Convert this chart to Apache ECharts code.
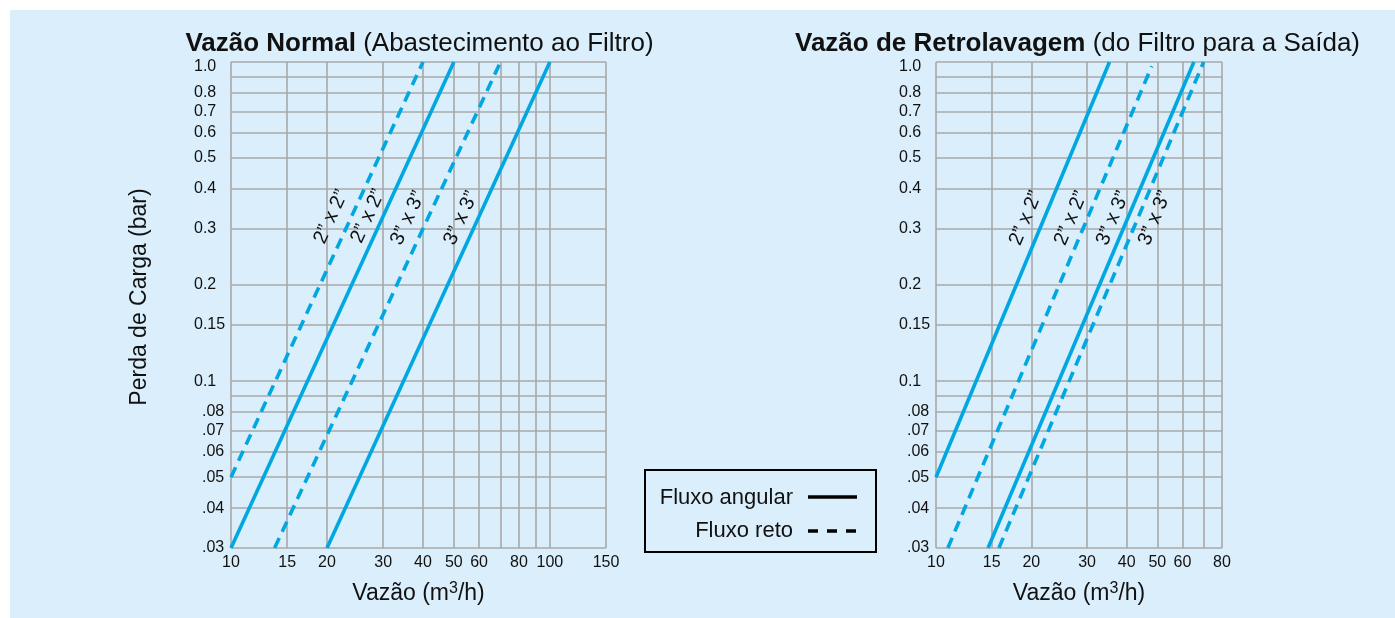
<!DOCTYPE html>
<html>
<head>
<meta charset="utf-8">
<script src="https://cdn.jsdelivr.net/npm/echarts@6/dist/echarts.min.js"></script>
<style>
  html, body { margin: 0; padding: 0; background: #ffffff; }
  #panel { position: absolute; left: 10px; top: 10px; width: 1385px; height: 608px; background: #dbeefb; }
  #chart { position: absolute; left: 0; top: 0; width: 1395px; height: 618px; }
</style>
</head>
<body>
<div id="panel"></div>
<div id="chart"></div>
<script>
// ---- Flow axes (m³/h): gridlines and labelled ticks ----
const normalFlowGrid   = [10, 15, 20, 30, 40, 50, 60, 70, 80, 90, 100, 150];
const normalFlowLabels = [10, 15, 20, 30, 40, 50, 60, 80, 100, 150];
const backFlowGrid     = [10, 15, 20, 30, 40, 50, 60, 70, 80];
const backFlowLabels   = [10, 15, 20, 30, 40, 50, 60, 80];

// ---- Pressure-loss axis (bar) ----
const lossGrid       = [0.03, 0.04, 0.05, 0.06, 0.07, 0.08, 0.09, 0.1, 0.15, 0.2, 0.3, 0.4, 0.5, 0.6, 0.7, 0.8, 0.9, 1.0];
const lossTickValues = [0.03, 0.04, 0.05, 0.06, 0.07, 0.08, 0.1, 0.15, 0.2, 0.3, 0.4, 0.5, 0.6, 0.7, 0.8, 1.0];
const lossTickText   = ['.03', '.04', '.05', '.06', '.07', '.08', '0.1', '0.15', '0.2', '0.3', '0.4', '0.5', '0.6', '0.7', '0.8', '1.0'];

// ---- Curves: [flow m³/h, loss bar] end points of each straight log-log line ----
// Normal flow (supply to the filter)
const normal2x2Angular  = [[10, 0.03], [50, 1.0]];
const normal2x2Straight = [[10, 0.05], [40, 1.0]];
const normal3x3Angular  = [[20, 0.03], [100, 1.0]];
const normal3x3Straight = [[13.7, 0.03], [70, 1.0]];
// Backwash flow (filter to outlet)
const back2x2Angular    = [[10, 0.05], [35.3, 1.0]];
const back2x2Straight   = [[10.9, 0.03], [48, 0.97]];
const back3x3Angular    = [[14.6, 0.03], [65.2, 1.0]];
const back3x3Straight   = [[15.8, 0.03], [70, 1.0]];

const SIZE_2 = '2\u201D x 2\u201D';
const SIZE_3 = '3\u201D x 3\u201D';

// Each curve: panel, values, stroke kind, and where its size tag sits (data space)
const curves = [
  { panel: 0, data: normal2x2Straight, dashed: true,  tag: SIZE_2, tagAt: [20.6, 0.327] },
  { panel: 0, data: normal2x2Angular,  dashed: false, tag: SIZE_2, tagAt: [26.9, 0.329] },
  { panel: 0, data: normal3x3Straight, dashed: true,  tag: SIZE_3, tagAt: [35.9, 0.324] },
  { panel: 0, data: normal3x3Angular,  dashed: false, tag: SIZE_3, tagAt: [52.7, 0.324] },
  { panel: 1, data: back2x2Angular,    dashed: false, tag: SIZE_2, tagAt: [19.2, 0.324] },
  { panel: 1, data: back2x2Straight,   dashed: true,  tag: SIZE_2, tagAt: [26.7, 0.324] },
  { panel: 1, data: back3x3Angular,    dashed: false, tag: SIZE_3, tagAt: [36.2, 0.324] },
  { panel: 1, data: back3x3Straight,   dashed: true,  tag: SIZE_3, tagAt: [49.1, 0.324] }
];

const FONT = '"Liberation Sans", Arial, Helvetica, sans-serif';
const INK = '#111111';
const LINE_COLOR = '#00a7e1';
const GRID_COLOR = '#a8a8a8';
const LINE_WIDTH = 3.6;
const DASH = [11, 7];

const L = Math.log10;
const toLog = pts => pts.map(p => [L(p[0]), L(p[1])]);

function flowAxis(gridIndex, maxFlow, gridVals, labelVals) {
  return {
    type: 'value', gridIndex: gridIndex,
    min: L(10), max: L(maxFlow),
    axisLine: { show: false },
    axisTick: { show: false, customValues: gridVals.map(L) },
    splitLine: { show: true, lineStyle: { color: GRID_COLOR, width: 1.6 } },
    axisLabel: {
      customValues: labelVals.map(L),
      formatter: v => String(Math.round(Math.pow(10, v))),
      fontSize: 16, color: INK, fontFamily: FONT, margin: 7
    },
    name: 'Vazão (m{s|3}/h)', nameLocation: 'middle', nameGap: 33,
    nameTextStyle: {
      fontSize: 23, color: INK, fontFamily: FONT, lineHeight: 26,
      rich: { s: { fontSize: 16, color: INK, fontFamily: FONT, verticalAlign: 'top', lineHeight: 16 } }
    }
  };
}

function lossAxis(gridIndex) {
  return {
    type: 'value', gridIndex: gridIndex,
    min: L(0.03), max: 0,
    axisLine: { show: false },
    axisTick: { show: false, customValues: lossGrid.map(L) },
    splitLine: { show: true, lineStyle: { color: GRID_COLOR, width: 1.6 } },
    axisLabel: {
      customValues: lossTickValues.map(L),
      formatter: v => {
        const i = lossTickValues.findIndex(t => Math.abs(L(t) - v) < 1e-9);
        const s = lossTickText[i];
        if (s.charAt(0) === '.') return '{r|' + s + '}';
        if (s === '1.0') return '{t|' + s + '}';
        return s;
      },
      align: 'left', margin: 37,
      fontSize: 16, color: INK, fontFamily: FONT,
      rich: {
        r: { fontSize: 16, color: INK, fontFamily: FONT, padding: [0, 0, 0, 8] },
        t: { fontSize: 16, color: INK, fontFamily: FONT, padding: [9, 0, 0, 0] }
      }
    }
  };
}

const chart = echarts.init(document.getElementById('chart'), null, { renderer: 'canvas' });

chart.setOption({
  animation: false,
  backgroundColor: 'transparent',
  grid: [
    { left: 231, top: 62, width: 375, height: 486, outerBoundsMode: 'none' },
    { left: 936, top: 62, width: 286, height: 486, outerBoundsMode: 'none' }
  ],
  xAxis: [
    flowAxis(0, 150, normalFlowGrid, normalFlowLabels),
    flowAxis(1, 80, backFlowGrid, backFlowLabels)
  ],
  yAxis: [lossAxis(0), lossAxis(1)],
  series: curves.map(c => ({
    type: 'line',
    name: c.tag + (c.dashed ? ' Fluxo reto' : ' Fluxo angular'),
    xAxisIndex: c.panel, yAxisIndex: c.panel,
    data: toLog(c.data),
    symbol: 'none', showSymbol: false, silent: true,
    lineStyle: { color: LINE_COLOR, width: LINE_WIDTH, type: c.dashed ? DASH : 'solid', cap: 'butt' }
  }))
});

// Size tags drawn along each curve, turned to the curve's on-screen slope
const tagGraphics = curves.map(c => {
  const finder = { gridIndex: c.panel };
  const a = chart.convertToPixel(finder, [L(c.data[0][0]), L(c.data[0][1])]);
  const b = chart.convertToPixel(finder, [L(c.data[1][0]), L(c.data[1][1])]);
  const p = chart.convertToPixel(finder, [L(c.tagAt[0]), L(c.tagAt[1])]);
  return {
    type: 'text', x: p[0], y: p[1], silent: true,
    rotation: Math.atan2(a[1] - b[1], b[0] - a[0]),
    style: { text: c.tag, fontSize: 20, fontFamily: FONT, fill: INK, align: 'center', verticalAlign: 'middle' }
  };
});

const titleRich = { b: { fontSize: 26, fontWeight: 'bold', fontFamily: FONT, fill: INK } };

chart.setOption({
  graphic: [
    {
      type: 'text', x: 419.5, y: 44, silent: true,
      style: { text: '{b|Vazão Normal} (Abastecimento ao Filtro)', rich: titleRich,
               fontSize: 26, fontFamily: FONT, fill: INK, align: 'center', verticalAlign: 'middle' }
    },
    {
      type: 'text', x: 1077.5, y: 44, silent: true,
      style: { text: '{b|Vazão de Retrolavagem} (do Filtro para a Saída)', rich: titleRich,
               fontSize: 26, fontFamily: FONT, fill: INK, align: 'center', verticalAlign: 'middle' }
    },
    {
      type: 'text', x: 140, y: 297, rotation: Math.PI / 2, silent: true,
      style: { text: 'Perda de Carga (bar)', fontSize: 23, fontFamily: FONT, fill: INK, align: 'center', verticalAlign: 'middle' }
    },
    // Key for the two flow types
    {
      type: 'rect', silent: true,
      shape: { x: 645, y: 470, width: 231, height: 82 },
      style: { fill: 'none', stroke: '#000', lineWidth: 2 }
    },
    {
      type: 'text', x: 793, y: 498, silent: true,
      style: { text: 'Fluxo angular', fontSize: 22, fontFamily: FONT, fill: INK, align: 'right', verticalAlign: 'middle' }
    },
    {
      type: 'text', x: 793, y: 531, silent: true,
      style: { text: 'Fluxo reto', fontSize: 22, fontFamily: FONT, fill: INK, align: 'right', verticalAlign: 'middle' }
    },
    {
      type: 'line', silent: true,
      shape: { x1: 808, y1: 497, x2: 857, y2: 497 },
      style: { stroke: '#000', lineWidth: LINE_WIDTH }
    },
    {
      type: 'line', silent: true,
      shape: { x1: 808, y1: 531, x2: 857, y2: 531 },
      style: { stroke: '#000', lineWidth: LINE_WIDTH, lineDash: [10, 9] }
    }
  ].concat(tagGraphics)
});
</script>
</body>
</html>
